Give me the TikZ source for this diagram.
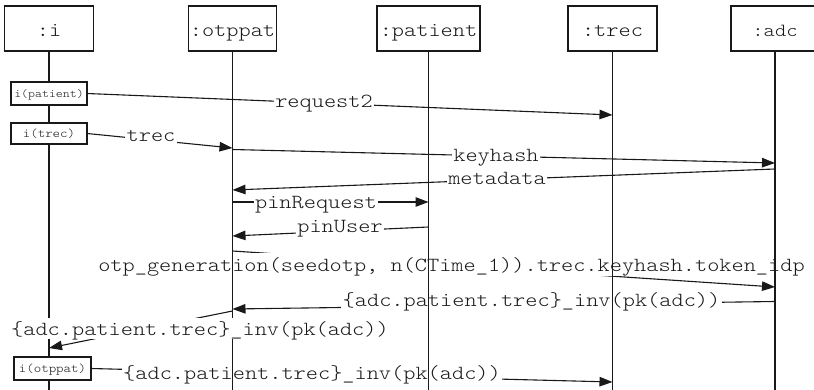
\documentclass[tikz,border=0pt]{standalone}
\usepackage{graphicx}
\usetikzlibrary{arrows.meta}

% light typewriter text, widened to Courier-like proportions
\newcommand{\monotxt}[2]{{\ttfamily\fontseries{l}\fontsize{#1}{#1}\selectfont\scalebox{1.16}[1]{#2}}}

\begin{document}
\begin{tikzpicture}[x=1pt,y=-1pt,
  every node/.style={inner sep=0pt, outer sep=0pt, text=black!90},
  line/.style={line width=1.1pt, draw=black!90},
  msg/.style={line, -{Triangle[length=13pt,width=9.5pt]}},
  head/.style={draw=black!90, line width=1.3pt, fill=white, minimum height=45pt, text height=17pt, text depth=0pt},
  ibox/.style={draw=black!90, line width=1.2pt, fill=white, text depth=0pt},
  lbl/.style={fill=white, inner xsep=1.5pt, text height=16pt, text depth=4pt, anchor=base},
]
\useasboundingbox (0,0) rectangle (814,390);
\clip (0,0) rectangle (814,390);

% participants
\node[head, minimum width=89pt]  (hi) at (49,28.5)    {\monotxt{20}{:i}};
\node[head, minimum width=88pt]  (ho) at (232.5,28.5) {\monotxt{20}{:otppat}};
\node[head, minimum width=103pt] (hp) at (428.5,28.5) {\monotxt{20}{:patient}};
\node[head, minimum width=89pt]  (ht) at (612.5,28.5) {\monotxt{20}{:trec}};
\node[head, minimum width=88pt]  (ha) at (775,28.5)   {\monotxt{18.5}{:adc}};

% lifeline bottoms
\coordinate (ie) at (49,395);
\coordinate (oe) at (232.5,395);
\coordinate (pe) at (428.5,395);
\coordinate (te) at (612.5,395);
\coordinate (ae) at (775,395);

% intruder boxes on the :i lifeline
\path (49,93.5) node[ibox, minimum width=76pt, minimum height=23pt, text height=8pt] (ipat) {\monotxt{11.4}{i(patient)}};
\path (49,133.5) node[ibox, minimum width=76pt, minimum height=21pt, text height=9pt] (itrec) {\monotxt{12.3}{i(trec)}};
\path (52.5,368.5) node[ibox, minimum width=77pt, minimum height=23pt, text height=8pt] (iotp) {\monotxt{12.3}{i(otppat)}};

% message end points on the lifelines
\coordinate (t1) at (612.5,115);
\coordinate (o1) at (232.5,148);
\coordinate (o2) at (232.5,149.5);
\coordinate (a1) at (775,163);
\coordinate (a2) at (775,169);
\coordinate (o3) at (232.5,190);
\coordinate (o4) at (232.5,202);
\coordinate (p1) at (428.5,202);
\coordinate (p2) at (428.5,227);
\coordinate (o5) at (232.5,236);
\coordinate (o6) at (232.5,251);
\coordinate (a3) at (775,287);
\coordinate (a4) at (775,301.5);
\coordinate (o7) at (232.5,309);
\coordinate (o8) at (232.5,311);
\coordinate (i1) at (49,348);
\coordinate (t2) at (612.5,382);

% messages
\draw[msg] (ipat.east) -- (t1);
\draw[msg] (itrec.east) -- (o1);
\draw[msg] (o2) -- (a1);
\draw[msg] (a2) -- (o3);
\draw[msg] (o4) -- (p1);
\draw[msg] (p2) -- (o5);
\draw[msg] (o6) -- (a3);
\draw[msg] (a4) -- (o7);
\draw[msg] (o8) -- (i1);
\draw[msg] (iotp.east) -- (t2);

% message labels
\node[lbl] (m1) at (324,108)   {\monotxt{20}{request2}};
\node[lbl] (m2) at (151,141.5) {\monotxt{20}{trec}};
\node[lbl] (m3) at (496,161.5) {\monotxt{20}{keyhash}};
\node[lbl] (m4) at (497,185)   {\monotxt{20}{metadata}};
\node[lbl] (m5) at (316,209)   {\monotxt{20}{pinRequest}};
\node[lbl] (m6) at (340,232.7) {\monotxt{20}{pinUser}};
\node[lbl, text height=18.5pt] (m7) at (451.5,272) {\monotxt{20}{otp\_generation(seedotp, n(CTime\_1)).trec.keyhash.token\_idp}};
\node[lbl] (m8) at (531.5,306.7) {\monotxt{20}{\{adc.patient.trec\}\_inv(pk(adc))}};
\node[lbl] (m10) at (312,379) {\monotxt{20}{\{adc.patient.trec\}\_inv(pk(adc))}};

% lifelines
\draw[line] (hi.south) -- (ie);
\draw[line] (ho.south) -- (oe);
\draw[line] (hp.south) -- (pe);
\draw[line] (ht.south) -- (te);
\draw[line] (ha.south) -- (ae);

% boxes above the lifelines
\path (49,93.5) node[ibox, minimum width=76pt, minimum height=23pt, text height=8pt] {\monotxt{11.4}{i(patient)}};
\path (49,133.5) node[ibox, minimum width=76pt, minimum height=21pt, text height=9pt] {\monotxt{12.3}{i(trec)}};
\path (52.5,368.5) node[ibox, minimum width=77pt, minimum height=23pt, text height=8pt] {\monotxt{12.3}{i(otppat)}};

% this label sits above the lifelines
\node[lbl, text height=17pt] (m9) at (200,335) {\monotxt{20}{\{adc.patient.trec\}\_inv(pk(adc))}};
\end{tikzpicture}
\end{document}
